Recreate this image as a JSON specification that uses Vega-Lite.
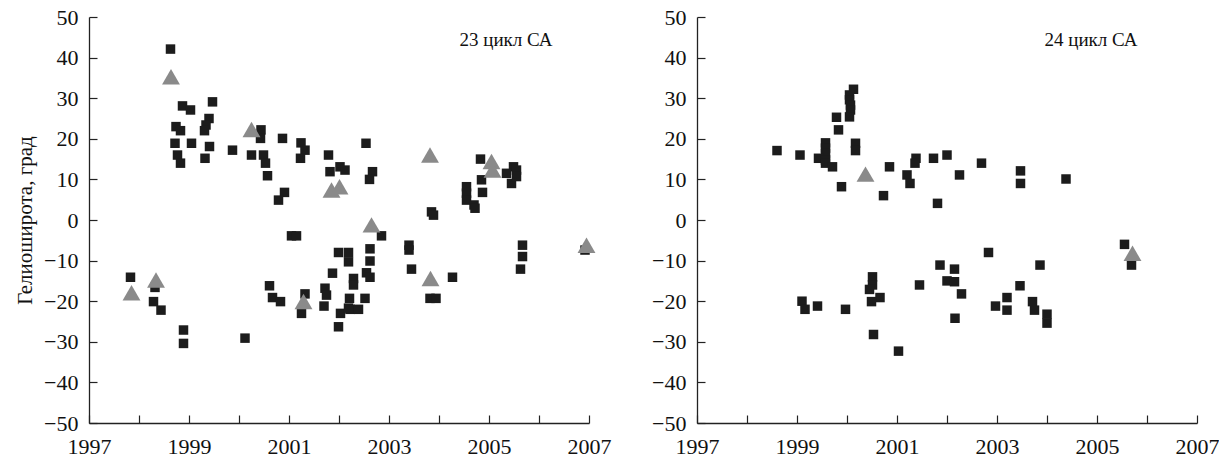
{
  "$schema": "https://vega.github.io/schema/vega-lite/v6.json",
  "padding": {"left": 14, "top": 6, "right": 0, "bottom": 0},
  "background": "white",
  "spacing": 40,
  "config": {
    "view": {"stroke": null},
    "font": "Liberation Serif",
    "axis": {
      "grid": false,
      "domainColor": "#222",
      "domainWidth": 1.3,
      "tickColor": "#222",
      "tickWidth": 1.2,
      "tickSize": -8,
      "labelFont": "Liberation Serif",
      "labelFontSize": 22,
      "labelColor": "#111",
      "titleFont": "Liberation Serif",
      "titleFontSize": 21,
      "titleFontWeight": "normal",
      "titleColor": "#111"
    }
  },
  "datasets": {
    "pts": [
      {"cycle": "23", "year": 1998.63, "lat": 42.1, "type": "sq"},
      {"cycle": "23", "year": 1998.87, "lat": 28.1, "type": "sq"},
      {"cycle": "23", "year": 1999.03, "lat": 27.1, "type": "sq"},
      {"cycle": "23", "year": 1999.47, "lat": 29.1, "type": "sq"},
      {"cycle": "23", "year": 1998.74, "lat": 23.0, "type": "sq"},
      {"cycle": "23", "year": 1998.83, "lat": 22.0, "type": "sq"},
      {"cycle": "23", "year": 1999.40, "lat": 25.0, "type": "sq"},
      {"cycle": "23", "year": 1999.34, "lat": 23.4, "type": "sq"},
      {"cycle": "23", "year": 1999.31, "lat": 22.0, "type": "sq"},
      {"cycle": "23", "year": 1998.72, "lat": 18.9, "type": "sq"},
      {"cycle": "23", "year": 1999.05, "lat": 18.9, "type": "sq"},
      {"cycle": "23", "year": 1999.41, "lat": 18.1, "type": "sq"},
      {"cycle": "23", "year": 1998.77, "lat": 16.0, "type": "sq"},
      {"cycle": "23", "year": 1998.83, "lat": 14.0, "type": "sq"},
      {"cycle": "23", "year": 1999.32, "lat": 15.2, "type": "sq"},
      {"cycle": "23", "year": 1999.87, "lat": 17.2, "type": "sq"},
      {"cycle": "23", "year": 2000.44, "lat": 22.2, "type": "sq"},
      {"cycle": "23", "year": 2000.43, "lat": 20.1, "type": "sq"},
      {"cycle": "23", "year": 2000.87, "lat": 20.1, "type": "sq"},
      {"cycle": "23", "year": 2001.24, "lat": 19.0, "type": "sq"},
      {"cycle": "23", "year": 2001.32, "lat": 17.2, "type": "sq"},
      {"cycle": "23", "year": 2001.23, "lat": 15.2, "type": "sq"},
      {"cycle": "23", "year": 2000.25, "lat": 16.0, "type": "sq"},
      {"cycle": "23", "year": 2000.49, "lat": 16.0, "type": "sq"},
      {"cycle": "23", "year": 2000.53, "lat": 14.0, "type": "sq"},
      {"cycle": "23", "year": 2000.57, "lat": 10.9, "type": "sq"},
      {"cycle": "23", "year": 2000.91, "lat": 6.8, "type": "sq"},
      {"cycle": "23", "year": 2000.79, "lat": 4.9, "type": "sq"},
      {"cycle": "23", "year": 2001.79, "lat": 16.0, "type": "sq"},
      {"cycle": "23", "year": 2001.82, "lat": 11.9, "type": "sq"},
      {"cycle": "23", "year": 2002.02, "lat": 13.1, "type": "sq"},
      {"cycle": "23", "year": 2002.12, "lat": 12.3, "type": "sq"},
      {"cycle": "23", "year": 2002.54, "lat": 18.9, "type": "sq"},
      {"cycle": "23", "year": 2002.67, "lat": 11.9, "type": "sq"},
      {"cycle": "23", "year": 2002.61, "lat": 10.0, "type": "sq"},
      {"cycle": "23", "year": 2004.83, "lat": 15.0, "type": "sq"},
      {"cycle": "23", "year": 2005.49, "lat": 13.1, "type": "sq"},
      {"cycle": "23", "year": 2005.55, "lat": 12.3, "type": "sq"},
      {"cycle": "23", "year": 2005.35, "lat": 11.5, "type": "sq"},
      {"cycle": "23", "year": 2005.45, "lat": 9.0, "type": "sq"},
      {"cycle": "23", "year": 2005.55, "lat": 10.7, "type": "sq"},
      {"cycle": "23", "year": 2004.85, "lat": 9.9, "type": "sq"},
      {"cycle": "23", "year": 2004.55, "lat": 8.2, "type": "sq"},
      {"cycle": "23", "year": 2004.55, "lat": 6.6, "type": "sq"},
      {"cycle": "23", "year": 2004.55, "lat": 4.9, "type": "sq"},
      {"cycle": "23", "year": 2004.70, "lat": 3.7, "type": "sq"},
      {"cycle": "23", "year": 2004.72, "lat": 2.9, "type": "sq"},
      {"cycle": "23", "year": 2004.87, "lat": 6.8, "type": "sq"},
      {"cycle": "23", "year": 2003.85, "lat": 2.0, "type": "sq"},
      {"cycle": "23", "year": 2003.89, "lat": 1.2, "type": "sq"},
      {"cycle": "23", "year": 2001.05, "lat": -3.9, "type": "sq"},
      {"cycle": "23", "year": 2001.15, "lat": -3.9, "type": "sq"},
      {"cycle": "23", "year": 1997.83, "lat": -14.1, "type": "sq"},
      {"cycle": "23", "year": 1998.32, "lat": -16.6, "type": "sq"},
      {"cycle": "23", "year": 1998.29, "lat": -20.1, "type": "sq"},
      {"cycle": "23", "year": 1998.44, "lat": -22.2, "type": "sq"},
      {"cycle": "23", "year": 1998.89, "lat": -27.1, "type": "sq"},
      {"cycle": "23", "year": 1998.89, "lat": -30.4, "type": "sq"},
      {"cycle": "23", "year": 2000.12, "lat": -29.1, "type": "sq"},
      {"cycle": "23", "year": 2000.61, "lat": -16.2, "type": "sq"},
      {"cycle": "23", "year": 2000.67, "lat": -19.1, "type": "sq"},
      {"cycle": "23", "year": 2000.83, "lat": -20.1, "type": "sq"},
      {"cycle": "23", "year": 2001.32, "lat": -18.2, "type": "sq"},
      {"cycle": "23", "year": 2001.25, "lat": -23.0, "type": "sq"},
      {"cycle": "23", "year": 2001.87, "lat": -13.1, "type": "sq"},
      {"cycle": "23", "year": 2001.72, "lat": -16.8, "type": "sq"},
      {"cycle": "23", "year": 2001.75, "lat": -18.5, "type": "sq"},
      {"cycle": "23", "year": 2001.70, "lat": -21.2, "type": "sq"},
      {"cycle": "23", "year": 2001.99, "lat": -8.0, "type": "sq"},
      {"cycle": "23", "year": 2002.19, "lat": -8.0, "type": "sq"},
      {"cycle": "23", "year": 2002.19, "lat": -10.3, "type": "sq"},
      {"cycle": "23", "year": 2002.03, "lat": -23.0, "type": "sq"},
      {"cycle": "23", "year": 2001.99, "lat": -26.3, "type": "sq"},
      {"cycle": "23", "year": 2002.85, "lat": -3.9, "type": "sq"},
      {"cycle": "23", "year": 2002.62, "lat": -7.1, "type": "sq"},
      {"cycle": "23", "year": 2002.62, "lat": -10.1, "type": "sq"},
      {"cycle": "23", "year": 2003.40, "lat": -6.2, "type": "sq"},
      {"cycle": "23", "year": 2003.40, "lat": -7.4, "type": "sq"},
      {"cycle": "23", "year": 2002.29, "lat": -14.4, "type": "sq"},
      {"cycle": "23", "year": 2002.29, "lat": -16.0, "type": "sq"},
      {"cycle": "23", "year": 2002.55, "lat": -13.0, "type": "sq"},
      {"cycle": "23", "year": 2002.62, "lat": -14.1, "type": "sq"},
      {"cycle": "23", "year": 2003.45, "lat": -12.1, "type": "sq"},
      {"cycle": "23", "year": 2004.27, "lat": -14.1, "type": "sq"},
      {"cycle": "23", "year": 2003.82, "lat": -19.3, "type": "sq"},
      {"cycle": "23", "year": 2003.94, "lat": -19.3, "type": "sq"},
      {"cycle": "23", "year": 2002.21, "lat": -19.3, "type": "sq"},
      {"cycle": "23", "year": 2002.52, "lat": -19.3, "type": "sq"},
      {"cycle": "23", "year": 2002.22, "lat": -22.0, "type": "sq"},
      {"cycle": "23", "year": 2002.39, "lat": -22.0, "type": "sq"},
      {"cycle": "23", "year": 2002.19, "lat": -21.7, "type": "sq"},
      {"cycle": "23", "year": 2005.67, "lat": -6.2, "type": "sq"},
      {"cycle": "23", "year": 2005.67, "lat": -9.0, "type": "sq"},
      {"cycle": "23", "year": 2005.63, "lat": -12.1, "type": "sq"},
      {"cycle": "23", "year": 2006.92, "lat": -7.4, "type": "sq"},
      {"cycle": "23", "year": 1998.64, "lat": 35.3, "type": "tri"},
      {"cycle": "23", "year": 2000.25, "lat": 22.3, "type": "tri"},
      {"cycle": "23", "year": 2001.85, "lat": 7.4, "type": "tri"},
      {"cycle": "23", "year": 2002.01, "lat": 8.2, "type": "tri"},
      {"cycle": "23", "year": 2003.82, "lat": 16.0, "type": "tri"},
      {"cycle": "23", "year": 2005.05, "lat": 14.4, "type": "tri"},
      {"cycle": "23", "year": 2005.07, "lat": 12.3, "type": "tri"},
      {"cycle": "23", "year": 2002.65, "lat": -1.2, "type": "tri"},
      {"cycle": "23", "year": 1997.85, "lat": -17.9, "type": "tri"},
      {"cycle": "23", "year": 1998.34, "lat": -14.8, "type": "tri"},
      {"cycle": "23", "year": 2001.29, "lat": -20.1, "type": "tri"},
      {"cycle": "23", "year": 2003.83, "lat": -14.4, "type": "tri"},
      {"cycle": "23", "year": 2006.95, "lat": -6.2, "type": "tri"},
      {"cycle": "24", "year": 2000.13, "lat": 32.2, "type": "sq"},
      {"cycle": "24", "year": 2000.05, "lat": 30.8, "type": "sq"},
      {"cycle": "24", "year": 2000.05, "lat": 29.6, "type": "sq"},
      {"cycle": "24", "year": 2000.07, "lat": 28.3, "type": "sq"},
      {"cycle": "24", "year": 2000.07, "lat": 27.1, "type": "sq"},
      {"cycle": "24", "year": 2000.05, "lat": 25.4, "type": "sq"},
      {"cycle": "24", "year": 1999.79, "lat": 25.3, "type": "sq"},
      {"cycle": "24", "year": 1999.83, "lat": 22.2, "type": "sq"},
      {"cycle": "24", "year": 1999.57, "lat": 19.0, "type": "sq"},
      {"cycle": "24", "year": 1999.57, "lat": 17.7, "type": "sq"},
      {"cycle": "24", "year": 1999.57, "lat": 16.4, "type": "sq"},
      {"cycle": "24", "year": 1999.43, "lat": 15.2, "type": "sq"},
      {"cycle": "24", "year": 1999.57, "lat": 14.8, "type": "sq"},
      {"cycle": "24", "year": 1999.57, "lat": 14.0, "type": "sq"},
      {"cycle": "24", "year": 1999.71, "lat": 13.1, "type": "sq"},
      {"cycle": "24", "year": 2000.17, "lat": 18.9, "type": "sq"},
      {"cycle": "24", "year": 2000.17, "lat": 17.1, "type": "sq"},
      {"cycle": "24", "year": 1998.60, "lat": 17.1, "type": "sq"},
      {"cycle": "24", "year": 1999.06, "lat": 16.0, "type": "sq"},
      {"cycle": "24", "year": 2000.85, "lat": 13.1, "type": "sq"},
      {"cycle": "24", "year": 1999.89, "lat": 8.2, "type": "sq"},
      {"cycle": "24", "year": 2000.73, "lat": 6.0, "type": "sq"},
      {"cycle": "24", "year": 2001.38, "lat": 15.2, "type": "sq"},
      {"cycle": "24", "year": 2001.36, "lat": 14.0, "type": "sq"},
      {"cycle": "24", "year": 2001.20, "lat": 11.1, "type": "sq"},
      {"cycle": "24", "year": 2001.26, "lat": 9.0, "type": "sq"},
      {"cycle": "24", "year": 2001.73, "lat": 15.2, "type": "sq"},
      {"cycle": "24", "year": 2002.00, "lat": 16.0, "type": "sq"},
      {"cycle": "24", "year": 2001.81, "lat": 4.1, "type": "sq"},
      {"cycle": "24", "year": 2002.69, "lat": 14.0, "type": "sq"},
      {"cycle": "24", "year": 2002.25, "lat": 11.1, "type": "sq"},
      {"cycle": "24", "year": 2003.47, "lat": 12.1, "type": "sq"},
      {"cycle": "24", "year": 2003.47, "lat": 9.0, "type": "sq"},
      {"cycle": "24", "year": 2004.38, "lat": 10.1, "type": "sq"},
      {"cycle": "24", "year": 1999.10, "lat": -20.0, "type": "sq"},
      {"cycle": "24", "year": 1999.16, "lat": -22.0, "type": "sq"},
      {"cycle": "24", "year": 1999.41, "lat": -21.2, "type": "sq"},
      {"cycle": "24", "year": 1999.97, "lat": -22.0, "type": "sq"},
      {"cycle": "24", "year": 2000.51, "lat": -14.0, "type": "sq"},
      {"cycle": "24", "year": 2000.51, "lat": -16.0, "type": "sq"},
      {"cycle": "24", "year": 2000.45, "lat": -17.1, "type": "sq"},
      {"cycle": "24", "year": 2000.66, "lat": -19.1, "type": "sq"},
      {"cycle": "24", "year": 2000.49, "lat": -20.1, "type": "sq"},
      {"cycle": "24", "year": 2000.53, "lat": -28.2, "type": "sq"},
      {"cycle": "24", "year": 2001.03, "lat": -32.3, "type": "sq"},
      {"cycle": "24", "year": 2001.45, "lat": -16.0, "type": "sq"},
      {"cycle": "24", "year": 2001.86, "lat": -11.1, "type": "sq"},
      {"cycle": "24", "year": 2002.00, "lat": -15.0, "type": "sq"},
      {"cycle": "24", "year": 2002.15, "lat": -12.1, "type": "sq"},
      {"cycle": "24", "year": 2002.15, "lat": -15.2, "type": "sq"},
      {"cycle": "24", "year": 2002.29, "lat": -18.2, "type": "sq"},
      {"cycle": "24", "year": 2002.16, "lat": -24.2, "type": "sq"},
      {"cycle": "24", "year": 2002.83, "lat": -8.0, "type": "sq"},
      {"cycle": "24", "year": 2003.86, "lat": -11.1, "type": "sq"},
      {"cycle": "24", "year": 2003.46, "lat": -16.2, "type": "sq"},
      {"cycle": "24", "year": 2003.20, "lat": -19.1, "type": "sq"},
      {"cycle": "24", "year": 2003.20, "lat": -22.2, "type": "sq"},
      {"cycle": "24", "year": 2002.97, "lat": -21.2, "type": "sq"},
      {"cycle": "24", "year": 2003.71, "lat": -20.1, "type": "sq"},
      {"cycle": "24", "year": 2003.75, "lat": -22.2, "type": "sq"},
      {"cycle": "24", "year": 2004.00, "lat": -23.2, "type": "sq"},
      {"cycle": "24", "year": 2004.00, "lat": -25.4, "type": "sq"},
      {"cycle": "24", "year": 2005.55, "lat": -6.0, "type": "sq"},
      {"cycle": "24", "year": 2005.69, "lat": -11.1, "type": "sq"},
      {"cycle": "24", "year": 2000.37, "lat": 11.3, "type": "tri"},
      {"cycle": "24", "year": 2005.71, "lat": -8.2, "type": "tri"}
    ],
    "labels": [
      {"cycle": "23", "year": 2005.34, "lat": 44.3, "text": "23 цикл СА"},
      {"cycle": "24", "year": 2004.88, "lat": 44.3, "text": "24 цикл СА"}
    ]
  },
  "hconcat": [
    {
      "width": 500,
      "height": 406,
      "layer": [
        {
          "data": {"name": "pts"},
          "transform": [{"filter": "datum.cycle == '23' && datum.type == 'sq'"}],
          "mark": {"type": "point", "shape": "square", "filled": true, "size": 90, "color": "#1c1c1c", "opacity": 1},
          "encoding": {
            "x": {"field": "year", "type": "quantitative", "scale": {"domain": [1997, 2007], "nice": false, "zero": false},
              "axis": {"title": null, "values": [1997, 1998, 1999, 2000, 2001, 2002, 2003, 2004, 2005, 2006, 2007], "labelExpr": "datum.value % 2 == 1 ? datum.value : ''", "labelPadding": 21, "labelFlush": false}},
            "y": {"field": "lat", "type": "quantitative", "scale": {"domain": [-50, 50], "nice": false, "zero": false},
              "axis": {"title": "Гелиоширота, град", "values": [-50, -40, -30, -20, -10, 0, 10, 20, 30, 40, 50], "labelPadding": 19, "titlePadding": 8, "labelFlush": false}}
          }
        },
        {
          "data": {"name": "pts"},
          "transform": [{"filter": "datum.cycle == '23' && datum.type == 'tri'"}],
          "mark": {"type": "point", "shape": "triangle-up", "filled": true, "size": 320, "color": "#8a8a8a", "opacity": 1},
          "encoding": {
            "x": {"field": "year", "type": "quantitative"},
            "y": {"field": "lat", "type": "quantitative"}
          }
        },
        {
          "data": {"name": "labels"},
          "transform": [{"filter": "datum.cycle == '23'"}],
          "mark": {"type": "text", "font": "Liberation Serif", "fontSize": 19, "color": "#111"},
          "encoding": {
            "x": {"field": "year", "type": "quantitative"},
            "y": {"field": "lat", "type": "quantitative"},
            "text": {"field": "text"}
          }
        }
      ]
    },
    {
      "width": 500,
      "height": 406,
      "layer": [
        {
          "data": {"name": "pts"},
          "transform": [{"filter": "datum.cycle == '24' && datum.type == 'sq'"}],
          "mark": {"type": "point", "shape": "square", "filled": true, "size": 90, "color": "#1c1c1c", "opacity": 1},
          "encoding": {
            "x": {"field": "year", "type": "quantitative", "scale": {"domain": [1997, 2007], "nice": false, "zero": false},
              "axis": {"title": null, "values": [1997, 1998, 1999, 2000, 2001, 2002, 2003, 2004, 2005, 2006, 2007], "labelExpr": "datum.value % 2 == 1 ? datum.value : ''", "labelPadding": 21, "labelFlush": false}},
            "y": {"field": "lat", "type": "quantitative", "scale": {"domain": [-50, 50], "nice": false, "zero": false},
              "axis": {"title": null, "values": [-50, -40, -30, -20, -10, 0, 10, 20, 30, 40, 50], "labelPadding": 19, "labelFlush": false}}
          }
        },
        {
          "data": {"name": "pts"},
          "transform": [{"filter": "datum.cycle == '24' && datum.type == 'tri'"}],
          "mark": {"type": "point", "shape": "triangle-up", "filled": true, "size": 320, "color": "#8a8a8a", "opacity": 1},
          "encoding": {
            "x": {"field": "year", "type": "quantitative"},
            "y": {"field": "lat", "type": "quantitative"}
          }
        },
        {
          "data": {"name": "labels"},
          "transform": [{"filter": "datum.cycle == '24'"}],
          "mark": {"type": "text", "font": "Liberation Serif", "fontSize": 19, "color": "#111"},
          "encoding": {
            "x": {"field": "year", "type": "quantitative"},
            "y": {"field": "lat", "type": "quantitative"},
            "text": {"field": "text"}
          }
        }
      ]
    }
  ]
}
